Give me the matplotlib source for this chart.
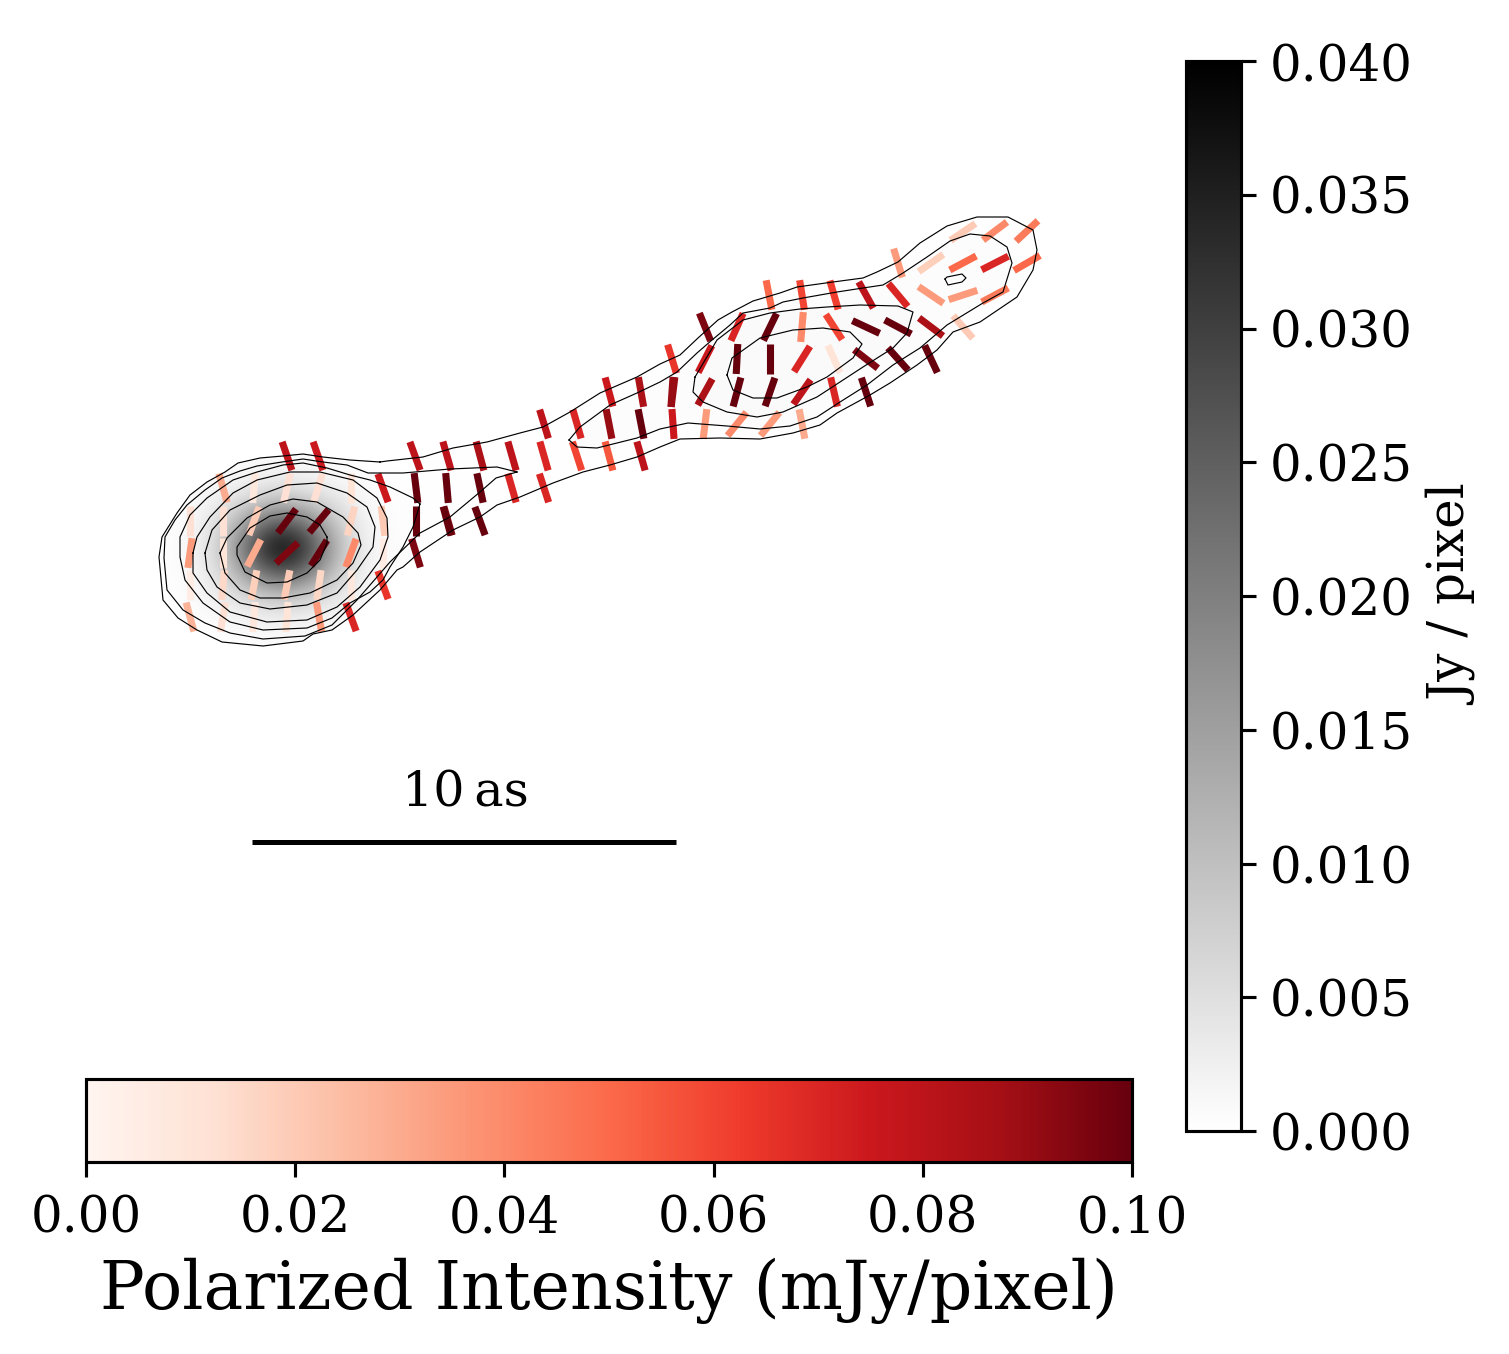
import numpy as np
import matplotlib
matplotlib.use('Agg')
import matplotlib.pyplot as plt
from matplotlib.collections import LineCollection
from matplotlib.colors import Normalize
from matplotlib.patches import Polygon
from matplotlib.cm import ScalarMappable

plt.rcParams['font.family'] = 'DejaVu Serif'

# polarization ticks: position on the sky map, angle from vertical, polarized intensity
tick_x = [287, 318, 223, 254, 287, 318, 351, 383, 416, 447,
          190, 223, 254, 287, 319, 351, 383, 416, 448,
          190, 223, 254, 287, 319, 351, 383, 416,
          190, 223, 254, 287, 319, 351, 383,
          190, 223, 254, 287, 319, 351,
          415, 447, 480, 512, 544, 577, 609, 641,
          544, 577, 609, 641, 673, 609, 641, 673,
          480, 512, 544, 447, 480,
          769, 802, 834, 866, 898,
          705, 737, 770, 802, 834, 866, 898, 931,
          672, 705, 737, 770, 802, 834, 866, 898, 931,
          672, 705, 737, 770, 802, 834, 866,
          705, 737, 770, 802,
          898, 931, 963, 995, 1027, 963, 995, 1027,
          931, 963, 995, 963]
tick_y = [456, 456, 488, 488, 488, 488, 488, 488, 488, 488,
          521, 521, 521, 521, 521, 521, 521, 521, 521,
          553, 553, 553, 553, 553, 553, 553, 553,
          585, 585, 585, 585, 585, 585, 585,
          617, 617, 617, 617, 617, 617,
          456, 456, 456, 456, 456, 456, 456, 456,
          424, 424, 424, 424, 424, 392, 392, 392,
          488, 488, 488, 521, 521,
          295, 295, 295, 295, 295,
          327, 327, 327, 327, 327, 327, 327, 327,
          359, 359, 359, 359, 359, 359, 359, 359, 359,
          392, 392, 392, 392, 392, 392, 392,
          424, 424, 424, 424,
          263, 263, 263, 263, 263, 232, 231, 231,
          295, 295, 295, 327]
tick_angle = [-19, -19, -16, 5, 13, 17, 0, -20, -7, -5,
              0, 0, 20, 37, 40, 14, -7, 0, -16,
              8, 0, 27, 47, 32, 20, 0, -17,
              0, 5, 11, 11, 8, 0, -20,
              -15, 10, 5, 4, -10, -20,
              -20, -16, -15, -16, -16, -18, -15, -16,
              -17, -16, -11, -11, -4, -15, -10, 7,
              -12, -16, -18, -15, -20,
              -11, -9, -16, -29, -40,
              -22, 24, 26, 5, -33, -65, -62, -53,
              -17, 27, 3, 0, 32, -24, -52, -42, -25,
              4, 29, 15, 19, 35, -13, -18,
              7, 39, 39, -11,
              -17, 55, 62, 63, 60, 56, 53, 47,
              -56, 72, 62, -41]
tick_pi = [0.08, 0.075, 0.03, 0.008, 0.012, 0.012, 0.01, 0.075, 0.1, 0.1,
           0.012, 0.012, 0.02, 0.1, 0.1, 0.017, 0.02, 0.1, 0.095,
           0.035, 0.01, 0.03, 0.095, 0.1, 0.04, 0.005, 0.095,
           0.005, 0.015, 0.018, 0.02, 0.016, 0.008, 0.065,
           0.027, 0.012, 0.008, 0.01, 0.035, 0.07,
           0.08, 0.08, 0.085, 0.08, 0.07, 0.06, 0.055, 0.08,
           0.08, 0.07, 0.09, 0.1, 0.075, 0.075, 0.085, 0.09,
           0.1, 0.07, 0.07, 0.1, 0.1,
           0.05, 0.06, 0.062, 0.08, 0.07,
           0.095, 0.07, 0.1, 0.04, 0.06, 0.1, 0.1, 0.085,
           0.065, 0.075, 0.1, 0.1, 0.07, 0.01, 0.095, 0.1, 0.1,
           0.09, 0.085, 0.1, 0.1, 0.08, 0.07, 0.1,
           0.035, 0.04, 0.035, 0.03,
           0.035, 0.018, 0.05, 0.07, 0.05, 0.02, 0.04, 0.045,
           0.035, 0.035, 0.045, 0.02]

# brightness around the core, Jy/pixel
core_x = [163, 187, 211, 235, 259, 283, 307, 331, 355, 379, 403]
core_y = [452, 476, 500, 524, 548, 572, 596, 620, 644]
core_map = [
    [0, 0.0001, 0.0001, 0.0003, 0.0005, 0.0006, 0.0005, 0.0003, 0.0001, 0.0001, 0],
    [0, 0.0001, 0.0006, 0.0012, 0.0018, 0.0022, 0.0018, 0.0012, 0.0006, 0.0003, 0.0002],
    [0.0001, 0.0006, 0.002, 0.0045, 0.0073, 0.0092, 0.0073, 0.0045, 0.002, 0.0006, 0.0003],
    [0.0001, 0.0009, 0.0036, 0.0108, 0.0218, 0.0277, 0.0218, 0.0108, 0.0036, 0.0009, 0.0003],
    [0.0001, 0.0012, 0.0045, 0.0156, 0.0316, 0.04, 0.0316, 0.0156, 0.0045, 0.0012, 0.0003],
    [0.0001, 0.0009, 0.0036, 0.0108, 0.0218, 0.0277, 0.0218, 0.0108, 0.0036, 0.0009, 0.0002],
    [0.0001, 0.0006, 0.002, 0.0045, 0.0073, 0.0092, 0.0073, 0.0045, 0.002, 0.0006, 0.0001],
    [0, 0.0001, 0.0006, 0.0012, 0.0018, 0.0022, 0.0018, 0.0012, 0.0006, 0.0001, 0],
    [0, 0.0001, 0.0001, 0.0003, 0.0005, 0.0006, 0.0005, 0.0003, 0.0001, 0.0001, 0],
]

c1_x = [380, 350, 323, 303, 283, 260, 238, 225, 207, 190, 177, 162, 159, 163, 178, 197, 222, 263, 303, 313, 332, 353,
        380, 397, 403, 420, 453, 480, 497, 520, 553, 583, 610, 637, 660, 680, 720, 760, 793, 820, 837, 870, 890, 917,
        937, 953, 980, 1017, 1033, 1037, 1033, 1008, 977, 947, 920, 898, 877, 863, 833, 797, 780, 753, 732, 718, 698,
        680, 660, 637, 600, 570, 543, 520, 487, 453, 423, 387]
c1_y = [462, 460, 457, 454, 456, 458, 463, 472, 482, 495, 513, 537, 557, 600, 618, 630, 642, 646, 641, 634, 630, 615,
        590, 570, 567, 552, 530, 517, 505, 497, 483, 472, 465, 457, 447, 439, 438, 439, 433, 425, 413, 395, 383, 365,
        350, 332, 322, 297, 270, 250, 230, 217, 217, 226, 243, 262, 272, 278, 282, 287, 293, 301, 312, 320, 338,
        355, 364, 377, 393, 412, 427, 433, 442, 448, 457, 461]
c2a_x = [517, 497, 450, 403, 368, 347, 323, 303, 282, 257, 240, 222, 205, 187, 175, 165, 164, 167, 183, 205, 230, 263,
         305, 332, 357, 377, 390, 420, 450, 480, 496]
c2a_y = [472, 467, 469, 473, 473, 465, 462, 459, 462, 466, 471, 478, 490, 505, 520, 537, 558, 590, 610, 623, 633, 639,
         636, 625, 600, 577, 562, 533, 517, 492, 478]
c2b_x = [569, 580, 610, 637, 660, 677, 697, 712, 730, 743, 770, 783, 803, 837, 863, 883, 903, 927, 950, 970, 990, 1007,
         1012, 1003, 983, 947, 920, 893, 867, 840, 817, 790, 760, 727, 688, 660, 637, 597, 577]
c2b_y = [440, 427, 405, 393, 382, 372, 353, 340, 325, 313, 308, 302, 298, 292, 288, 285, 273, 257, 241, 234, 236, 247,
         263, 292, 303, 325, 348, 365, 385, 402, 417, 426, 429, 426, 423, 429, 438, 448, 447]
c3a_x = [420, 413, 390, 370, 350, 327, 303, 283, 257, 233, 207, 190, 180, 180, 185, 203, 230, 263, 307, 332, 350, 370,
         383, 390, 403, 413]
c3a_y = [504, 498, 487, 480, 475, 468, 463, 465, 472, 480, 498, 515, 537, 557, 580, 603, 622, 630, 628, 618, 603, 592,
         580, 567, 547, 527]
c3b_x = [695, 693, 703, 727, 757, 783, 817, 840, 863, 893, 907, 913, 898, 860, 827, 800, 770, 743, 717]
c3b_y = [377, 392, 402, 412, 417, 412, 397, 382, 367, 348, 333, 312, 306, 305, 307, 309, 313, 320, 340]
c4a_x = [193, 197, 210, 233, 257, 290, 320, 353, 377, 387, 388, 380, 360, 337, 307, 267, 230, 207, 193]
c4a_y = [553, 537, 517, 493, 480, 472, 472, 480, 498, 518, 537, 560, 587, 607, 620, 622, 612, 593, 573]
c4b_x = [727, 732, 760, 793, 823, 850, 862, 853, 827, 807, 777, 753, 733]
c4b_y = [375, 358, 338, 330, 328, 332, 344, 358, 377, 387, 398, 398, 390]
c5_x = [205, 212, 230, 260, 287, 317, 347, 367, 375, 373, 357, 337, 307, 270, 240, 217, 207]
c5_y = [553, 530, 510, 495, 485, 483, 493, 507, 527, 547, 570, 593, 605, 609, 603, 587, 570]
c6_x = [220, 227, 247, 270, 293, 317, 343, 358, 361, 353, 337, 310, 283, 260, 240, 225]
c6_y = [553, 538, 518, 505, 499, 502, 517, 533, 545, 563, 580, 593, 598, 598, 590, 573]
c7_x = [327, 320, 307, 287, 270, 250, 237, 237, 245, 267, 287, 307, 320, 327]
c7_y = [537, 525, 517, 513, 516, 528, 547, 555, 572, 583, 582, 573, 560, 543]
c8_x = [945, 947, 962, 966, 962, 948]
c8_y = [279, 277, 274, 278, 282, 285]

contour_x = [c1_x, c2a_x, c2b_x, c3a_x, c3b_x, c4a_x, c4b_x, c5_x, c6_x, c7_x, c8_x]
contour_y = [c1_y, c2a_y, c2b_y, c3a_y, c3b_y, c4a_y, c4b_y, c5_y, c6_y, c7_y, c8_y]

# faint jet emission inside the contours
jet_levels = [0.0002, 0.0005, 0.0009]

gray_ticks = [0.0, 0.005, 0.01, 0.015, 0.02, 0.025, 0.03, 0.035, 0.04]
red_ticks = [0.0, 0.02, 0.04, 0.06, 0.08, 0.1]

W, H = 1509, 1354
fig = plt.figure(figsize=(W / 300, H / 300), dpi=300)

ax = fig.add_axes([0, 0, 1, 1])
ax.set_xlim(0, W)
ax.set_ylim(H, 0)
ax.axis('off')

gray_norm = Normalize(0, 0.04)
red_norm = Normalize(0, 0.1)

# jet background
outline = Polygon(np.column_stack([c1_x, c1_y]), closed=True, transform=ax.transData, fc='none', ec='none')
ax.add_patch(outline)
ax.fill(c1_x, c1_y, color=plt.cm.gray_r(gray_norm(jet_levels[0])), lw=0, zorder=1)
ax.fill(c2b_x, c2b_y, color=plt.cm.gray_r(gray_norm(jet_levels[1])), lw=0, zorder=1)
ax.fill(c3b_x, c3b_y, color=plt.cm.gray_r(gray_norm(jet_levels[2])), lw=0, zorder=1)

# core
dx = core_x[1] - core_x[0]
dy = core_y[1] - core_y[0]
im = ax.imshow(core_map, cmap='gray_r', norm=gray_norm, interpolation='bicubic',
               extent=[core_x[0] - dx / 2, core_x[-1] + dx / 2, core_y[-1] + dy / 2, core_y[0] - dy / 2],
               origin='upper', aspect='auto', zorder=2)
im.set_clip_path(outline)
ax.set_xlim(0, W)
ax.set_ylim(H, 0)

# polarization ticks
half = 15
rad = np.radians(tick_angle)
tx = np.array(tick_x)
ty = np.array(tick_y)
segs = np.stack([np.column_stack([tx - half * np.sin(rad), ty + half * np.cos(rad)]),
                 np.column_stack([tx + half * np.sin(rad), ty - half * np.cos(rad)])], axis=1)
lc = LineCollection(segs, cmap='Reds', norm=red_norm, linewidths=1.7, capstyle='butt', zorder=3)
lc.set_array(np.array(tick_pi))
ax.add_collection(lc)

for xs, ys in zip(contour_x, contour_y):
    ax.plot(xs + xs[:1], ys + ys[:1], color='black', lw=0.28, zorder=4)

# scale bar
ax.plot([252, 676], [841.5, 841.5], color='black', lw=1.2, solid_capstyle='butt', zorder=5)
ax.text(465, 793, '10\u2009as', ha='center', va='center', fontsize=11.8)

# colorbars
cax1 = fig.add_axes([1186 / W, 1 - 1131 / H, 54.5 / W, 1070 / H])
cb1 = fig.colorbar(ScalarMappable(gray_norm, 'gray_r'), cax=cax1)
cb1.set_ticks(gray_ticks)
cb1.ax.set_yticklabels(['%.3f' % v for v in gray_ticks])
cb1.ax.tick_params(labelsize=12, length=3.5, width=0.75, pad=3.5)
cb1.outline.set_linewidth(0.75)
cb1.set_label('Jy / pixel', fontsize=12, labelpad=4)

cax2 = fig.add_axes([86 / W, 1 - 1161.5 / H, 1046 / W, 82.5 / H])
cb2 = fig.colorbar(ScalarMappable(red_norm, 'Reds'), cax=cax2, orientation='horizontal')
cb2.set_ticks(red_ticks)
cb2.ax.set_xticklabels(['%.2f' % v for v in red_ticks])
cb2.ax.tick_params(labelsize=12, length=3.5, width=0.75, pad=4.2)
cb2.outline.set_linewidth(0.75)
cb2.set_label('Polarized Intensity (mJy/pixel)', fontsize=16, labelpad=3.5)

fig.savefig('out.png', dpi=300)
